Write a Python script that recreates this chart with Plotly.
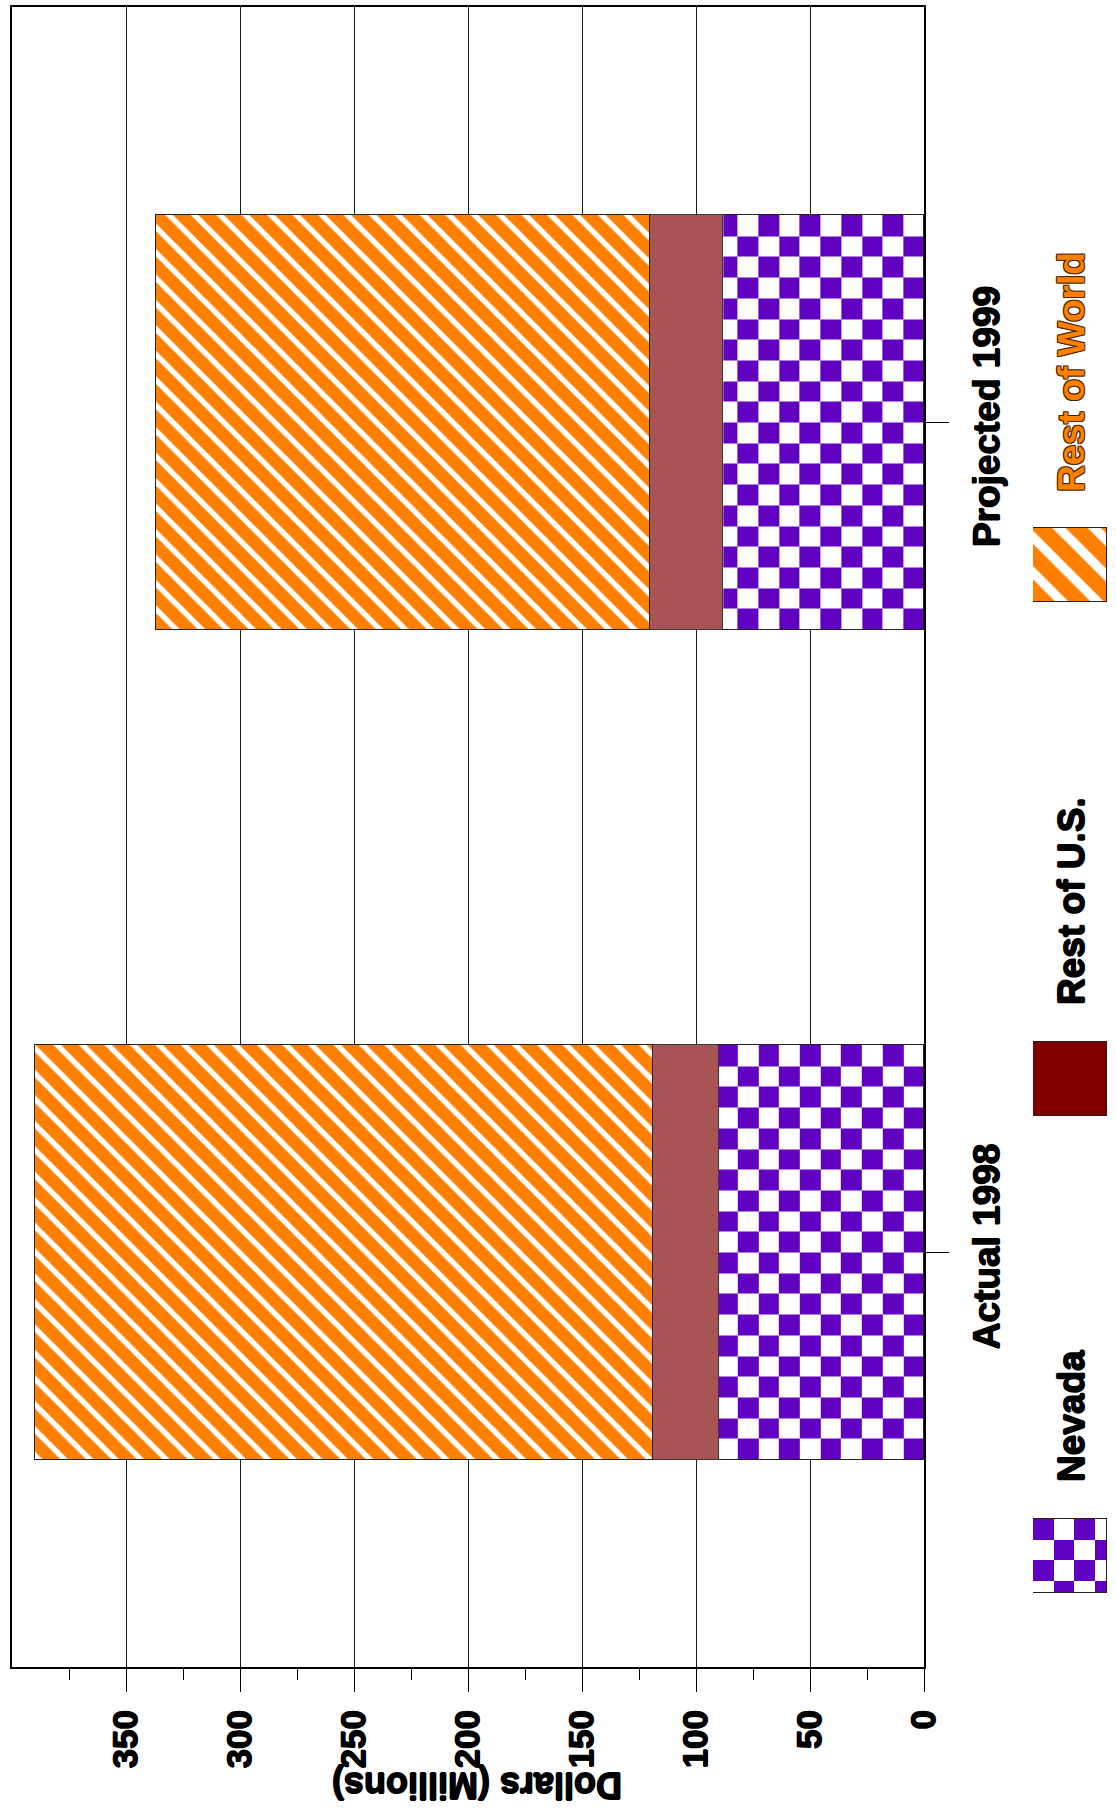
import numpy as np
import plotly.graph_objects as go

# ---- data -------------------------------------------------------------
categories = ["Actual 1998", "Projected 1999"]
nevada = [90, 88]
rest_us = [29, 32]
rest_world = [271, 217]
series_names = ["Nevada", "Rest of U.S.", "Rest of World"]
value_ticks = [0, 50, 100, 150, 200, 250, 300, 350]
minor_ticks = [25, 75, 125, 175, 225, 275, 325, 375]
value_max = 400
axis_title = "Dollars (Millions)"

# ---- page geometry ----------------------------------------------------
W, H = 1116, 1813
M_L, M_R, M_T, M_B = 12, 0, 7, 146
PLOT_W = W - M_L - M_R
PLOT_H = H - M_T - M_B
AXIS_RIGHT_PX = 924                      # where the value axis hits 0
X_DOM_END = (AXIS_RIGHT_PX - M_L) / PLOT_W
PX_PER_X = (AXIS_RIGHT_PX - M_L) / value_max
PX_PER_Y = PLOT_H / 2.0
BAR_W = 0.5
CHECK_PX = 20.7                           # checker square size in pixels

FONT = "Liberation Sans, Arial, Helvetica, sans-serif"
PURPLE = "#6000C0"
ORANGE = "#FF8000"
BRICK = "#A85454"
MAROON = "#800000"
OUTLINE = "#222222"


def heavy(color, d=0.7):
    # thin same-coloured halo that makes the bold type look heavier
    return ", ".join(f"{dx}px {dy}px 0 {color}"
                     for dx, dy in [(d, 0), (-d, 0), (0, d), (0, -d)])


BLACK_HEAVY = heavy("#000")
WORLD_EDGE = ("-1px -1px 0 #4a2400, 1px -1px 0 #4a2400, "
              "-1px 1px 0 #4a2400, 1px 1px 0 #4a2400")

# legend strip (pixel units on a helper axis)
LEG_X0, LEG_SIZE = 1033, 74
LEG_TOPS = {"Nevada": 1519, "Rest of U.S.": 1042, "Rest of World": 528}
LEG_TEXT_Y = {"Nevada": 1416, "Rest of U.S.": 901, "Rest of World": 372}
LEG_TEXT_X = 1071


def edges(a, b, step):
    e = list(np.arange(a, b, step))
    if b - e[-1] < step * 0.15 and len(e) > 1:
        e = e[:-1]
    return e + [b]


def checker(x_edges, y_edges, start=1):
    return [[(r + c + start) % 2 for c in range(len(x_edges) - 1)]
            for r in range(len(y_edges) - 1)]


def bold(s):
    return f"<b>{s}</b>"


cat_pos = list(range(len(categories)))
check_scale = [[0, "white"], [1, PURPLE]]

fig = go.Figure()

# checker texture inside the Nevada segments
for yc, v in zip(cat_pos, nevada):
    xe = edges(0, v, CHECK_PX / PX_PER_X)
    ye = edges(yc - BAR_W / 2, yc + BAR_W / 2, CHECK_PX / PX_PER_Y)
    fig.add_trace(go.Heatmap(
        x=xe, y=ye, z=checker(xe, ye), colorscale=check_scale,
        zmin=0, zmax=1, showscale=False, hoverinfo="skip", zsmooth=False,
    ))

# stacked bars
fig.add_trace(go.Bar(
    name=series_names[0], y=cat_pos, x=nevada, orientation="h", width=BAR_W,
    marker=dict(color="rgba(0,0,0,0)", line=dict(color=OUTLINE, width=1.5)),
))
fig.add_trace(go.Bar(
    name=series_names[1], y=cat_pos, x=rest_us, orientation="h", width=BAR_W,
    marker=dict(color=BRICK, line=dict(color="#3a3a3a", width=1.5)),
))
fig.add_trace(go.Bar(
    name=series_names[2], y=cat_pos, x=rest_world, orientation="h", width=BAR_W,
    marker=dict(color=ORANGE, line=dict(color=OUTLINE, width=1.5),
                pattern=dict(shape="\\", fgcolor="white", bgcolor=ORANGE,
                             size=18, solidity=0.3, fillmode="replace")),
))

# ---- legend swatches on a helper axis measured in pixels --------------
top = LEG_TOPS["Nevada"]
lxe = edges(0, LEG_SIZE, CHECK_PX)
lye = edges(top, top + LEG_SIZE, CHECK_PX)
fig.add_trace(go.Heatmap(
    x=lxe, y=lye, z=checker(lxe, lye), colorscale=check_scale, zmin=0, zmax=1,
    showscale=False, hoverinfo="skip", zsmooth=False, xaxis="x3", yaxis="y3",
))
fig.add_trace(go.Bar(
    y=[top + LEG_SIZE / 2], x=[LEG_SIZE], base=0, width=LEG_SIZE,
    orientation="h", xaxis="x3", yaxis="y3", hoverinfo="skip",
    marker=dict(color="rgba(0,0,0,0)", line=dict(color=OUTLINE, width=1.5)),
))
top = LEG_TOPS["Rest of U.S."]
fig.add_trace(go.Bar(
    y=[top + LEG_SIZE / 2], x=[LEG_SIZE], base=0, width=LEG_SIZE,
    orientation="h", xaxis="x3", yaxis="y3", hoverinfo="skip",
    marker=dict(color=MAROON, line=dict(color=OUTLINE, width=1.5)),
))
top = LEG_TOPS["Rest of World"]
fig.add_trace(go.Bar(
    y=[top + LEG_SIZE / 2], x=[LEG_SIZE], base=0, width=LEG_SIZE,
    orientation="h", xaxis="x3", yaxis="y3", hoverinfo="skip",
    marker=dict(color=ORANGE, line=dict(color=OUTLINE, width=1.5),
                pattern=dict(shape="\\", fgcolor="white", bgcolor=ORANGE,
                             size=25, solidity=0.38, fillmode="replace")),
))

annotations = []
for name in series_names:
    is_world = name == "Rest of World"
    annotations.append(dict(
        text=bold(name), xref="x3", yref="y3", x=LEG_TEXT_X - LEG_X0, y=LEG_TEXT_Y[name],
        textangle=-90, showarrow=False, xanchor="center", yanchor="middle",
        font=dict(family=FONT, size=37, weight=700,
                  color=ORANGE if is_world else "black",
                  shadow=WORLD_EDGE if is_world else BLACK_HEAVY),
    ))
annotations.append(dict(
    text=bold(axis_title), xref="paper", yref="paper",
    x=(477 - M_L) / PLOT_W, y=(M_T + PLOT_H - 1786) / PLOT_H,
    textangle=180, showarrow=False, xanchor="center", yanchor="middle",
    font=dict(family=FONT, size=36, weight=700, color="black", shadow=BLACK_HEAVY),
))

fig.update_layout(
    width=W, height=H,
    margin=dict(l=M_L, r=M_R, t=M_T, b=M_B, pad=0, autoexpand=False),
    paper_bgcolor="white", plot_bgcolor="white",
    barmode="stack", bargap=0, showlegend=False,
    annotations=annotations,
    xaxis=dict(
        domain=[0, X_DOM_END], range=[value_max, 0], anchor="y",
        tickmode="array", tickvals=value_ticks,
        ticktext=[bold(v) for v in value_ticks],
        ticks="outside", ticklen=23, tickwidth=1, tickcolor="black",
        tickangle=-90, ticklabelstandoff=4,
        tickfont=dict(family=FONT, size=35, weight=700, color="black",
                      shadow=BLACK_HEAVY),
        showgrid=True, gridcolor="#1a1a1a", gridwidth=1,
        zeroline=False, showline=True, linecolor="black", linewidth=2, mirror=True,
        minor=dict(tickvals=minor_ticks, ticks="outside", ticklen=11,
                   tickwidth=1, tickcolor="black", showgrid=False),
    ),
    xaxis2=dict(
        overlaying="x", anchor="y", range=[value_max, 0], side="bottom",
        tickmode="array", tickvals=minor_ticks, ticks="inside", ticklen=11,
        tickwidth=1, tickcolor="black", showticklabels=False,
        showgrid=False, zeroline=False, showline=False,
    ),
    yaxis=dict(
        domain=[0, 1], range=[-0.5, 1.5], anchor="x", side="right",
        tickmode="array", tickvals=cat_pos, ticktext=[bold(c) for c in categories],
        ticks="outside", ticklen=23, tickwidth=1, tickcolor="black",
        tickangle=-90, ticklabelstandoff=6,
        tickfont=dict(family=FONT, size=37, weight=700, color="black",
                      shadow=BLACK_HEAVY),
        showgrid=False, zeroline=False,
        showline=True, linecolor="black", linewidth=2, mirror=True,
    ),
    xaxis3=dict(
        domain=[(LEG_X0 - M_L) / PLOT_W, (LEG_X0 + LEG_SIZE - M_L) / PLOT_W],
        range=[0, LEG_SIZE], anchor="y3", visible=False, fixedrange=True,
    ),
    yaxis3=dict(
        domain=[0, 1], range=[M_T + PLOT_H, M_T], anchor="x3",
        visible=False, fixedrange=True,
    ),
)

fig.write_html("out.html")
